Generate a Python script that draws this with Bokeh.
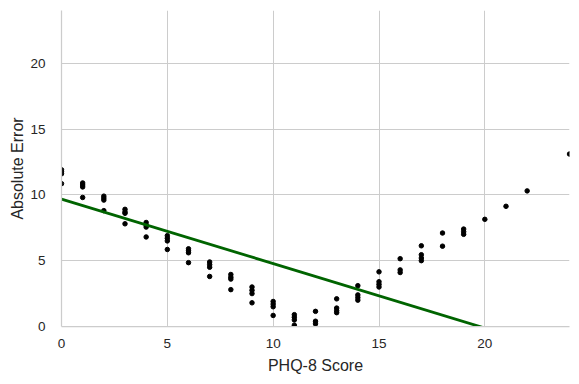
from bokeh.plotting import figure
from bokeh.embed import file_html
from bokeh.resources import INLINE
from bokeh.models import Range1d, FixedTicker

# PHQ-8 scores (x) and absolute errors (y) grouped per score
score_groups = [0, 1, 2, 3, 4, 5, 6, 7, 8, 9, 10, 11, 12, 13, 14, 15, 16, 17, 18, 19, 20, 21, 22, 24]
error_groups = [
    [11.9, 11.75, 11.6, 10.85],
    [10.9, 10.75, 10.6, 9.8],
    [9.9, 9.75, 9.6, 8.8],
    [8.9, 8.7, 8.6, 7.8],
    [7.9, 7.7, 7.55, 6.8],
    [6.9, 6.7, 6.5, 5.85],
    [5.9, 5.75, 5.6, 4.85],
    [4.9, 4.7, 4.5, 3.8],
    [3.95, 3.75, 3.6, 2.8],
    [3.0, 2.75, 2.5, 1.8],
    [1.9, 1.7, 1.5, 0.84],
    [0.9, 0.7, 0.5, 0.1],
    [1.15, 0.4, 0.2],
    [2.1, 1.4, 1.2, 1.05],
    [3.1, 2.4, 2.2, 2.0],
    [4.15, 3.4, 3.2, 3.0],
    [5.15, 4.3, 4.1],
    [6.13, 5.45, 5.2, 5.0],
    [7.1, 6.1],
    [7.4, 7.2, 7.0],
    [8.14],
    [9.13],
    [10.3],
    [13.1],
]
fit_intercept = 9.68
fit_slope = -0.49
fit_x = [0, 24]
ticks = [0, 5, 10, 15, 20]

xs, ys = [], []
for s, errs in zip(score_groups, error_groups):
    for e in errs:
        xs.append(s)
        ys.append(e)
fit_y = [fit_intercept + fit_slope * v for v in fit_x]

p = figure(frame_width=508, frame_height=316, output_backend="svg", toolbar_location=None,
           x_range=Range1d(0, 24), y_range=Range1d(0, 24),
           min_border_left=61, min_border_right=10, min_border_top=10, min_border_bottom=58)
p.outline_line_color = None
p.background_fill_color = "white"

for ax in (p.xaxis[0], p.yaxis[0]):
    ax.ticker = FixedTicker(ticks=ticks)
    ax.axis_line_color = "#cccccc"
    ax.axis_line_width = 1.25
    ax.major_tick_line_color = None
    ax.minor_tick_line_color = None
    ax.major_label_text_font = "Liberation Sans"
    ax.major_label_text_font_size = "13.5px"
    ax.major_label_text_color = "#262626"
    ax.axis_label_text_font = "Liberation Sans"
    ax.axis_label_text_font_size = "16px"
    ax.axis_label_text_font_style = "normal"
    ax.axis_label_text_color = "#262626"
p.xaxis.axis_label = "PHQ-8 Score"
p.yaxis.axis_label = "Absolute Error"
p.xaxis.major_label_standoff = 6
p.yaxis.major_label_standoff = 10
p.xaxis.axis_label_standoff = 6
p.yaxis.axis_label_standoff = 1

p.xgrid.ticker = FixedTicker(ticks=ticks)
p.ygrid.ticker = FixedTicker(ticks=ticks)
p.grid.grid_line_color = "#cccccc"
p.grid.grid_line_width = 1

p.scatter(xs, ys, marker="circle", size=4.5, color="black")
p.line(fit_x, fit_y, line_color="#006400", line_width=2.8)

open("out.html", "w").write(file_html(p, INLINE))
